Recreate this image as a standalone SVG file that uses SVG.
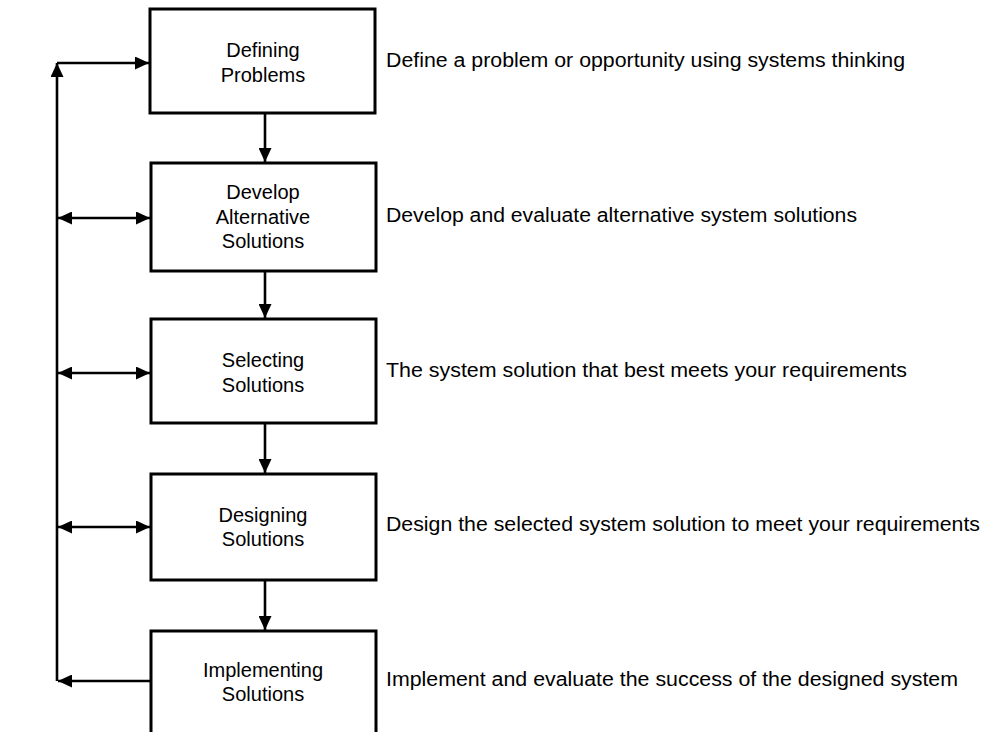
<svg xmlns="http://www.w3.org/2000/svg" width="994" height="732" viewBox="0 0 994 732">
<defs>
<style>
.box{fill:#fff;stroke:#000;stroke-width:3}
.conn{fill:none;stroke:#000;stroke-width:2.6}
.lbl{font-family:"Liberation Sans",Arial,sans-serif;font-size:20px;fill:#000;text-anchor:middle}
.desc{font-family:"Liberation Sans",Arial,sans-serif;font-size:20px;fill:#000}
</style>
<marker id="ah" markerUnits="userSpaceOnUse" markerWidth="15" markerHeight="13" refX="14" refY="6.5" orient="auto-start-reverse">
<path d="M0,0 L14,6.5 L0,13 Z" fill="#000"/>
</marker>
</defs>
<rect width="994" height="732" fill="#fff"/>
<g id="connectors">
<path class="conn" d="M57,681 V63" marker-end="url(#ah)"/>
<path class="conn" d="M57,63 H149" marker-end="url(#ah)"/>
<path class="conn" d="M58,218 H150" marker-start="url(#ah)" marker-end="url(#ah)"/>
<path class="conn" d="M58,373 H150" marker-start="url(#ah)" marker-end="url(#ah)"/>
<path class="conn" d="M58,527 H150" marker-start="url(#ah)" marker-end="url(#ah)"/>
<path class="conn" d="M151,681 H58" marker-end="url(#ah)"/>
<path class="conn" d="M265,113 V162" marker-end="url(#ah)"/>
<path class="conn" d="M265,271 V318" marker-end="url(#ah)"/>
<path class="conn" d="M265,423 V473" marker-end="url(#ah)"/>
<path class="conn" d="M265,580 V630" marker-end="url(#ah)"/>
</g>
<g id="node1">
<rect class="box" x="150" y="9" width="225" height="104"/>
<text class="lbl" x="263" y="57">Defining</text>
<text class="lbl" x="263" y="82">Problems</text>
<text class="desc" x="386" y="67" textLength="519" lengthAdjust="spacingAndGlyphs">Define a problem or opportunity using systems thinking</text>
</g>
<g id="node2">
<rect class="box" x="151" y="163" width="225" height="108"/>
<text class="lbl" x="263" y="199">Develop</text>
<text class="lbl" x="263" y="224">Alternative</text>
<text class="lbl" x="263" y="248">Solutions</text>
<text class="desc" x="386" y="222" textLength="471" lengthAdjust="spacingAndGlyphs">Develop and evaluate alternative system solutions</text>
</g>
<g id="node3">
<rect class="box" x="151" y="319" width="225" height="104"/>
<text class="lbl" x="263" y="367">Selecting</text>
<text class="lbl" x="263" y="392">Solutions</text>
<text class="desc" x="386" y="377" textLength="521" lengthAdjust="spacingAndGlyphs">The system solution that best meets your requirements</text>
</g>
<g id="node4">
<rect class="box" x="151" y="474" width="225" height="106"/>
<text class="lbl" x="263" y="522">Designing</text>
<text class="lbl" x="263" y="546">Solutions</text>
<text class="desc" x="386" y="531" textLength="594" lengthAdjust="spacingAndGlyphs">Design the selected system solution to meet your requirements</text>
</g>
<g id="node5">
<path class="box" d="M151,740 V631 H376 V740"/>
<text class="lbl" x="263" y="677">Implementing</text>
<text class="lbl" x="263" y="701">Solutions</text>
<text class="desc" x="386" y="686" textLength="572" lengthAdjust="spacingAndGlyphs">Implement and evaluate the success of the designed system</text>
</g>
</svg>
